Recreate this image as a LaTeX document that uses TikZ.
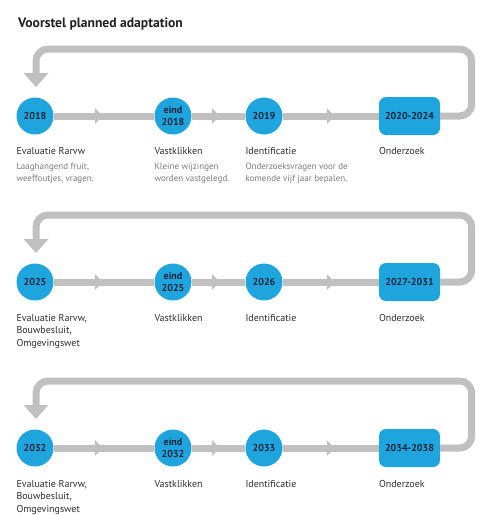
\documentclass[tikz,border=0pt]{standalone}
\usepackage{fontspec}
\setmainfont{PT Sans}
\usetikzlibrary{calc}
\definecolor{cblue}{HTML}{1EA5DE}
\definecolor{lgray}{HTML}{C0C0C0}
\definecolor{ntext}{HTML}{102238}
\definecolor{ltext}{HTML}{2E2E2E}
\definecolor{dtext}{HTML}{7A7A7A}
\definecolor{ttext}{HTML}{222222}
\begin{document}
\begin{tikzpicture}[x=1pt,y=-1pt,
  yearc/.style={circle, fill=cblue, minimum size=37pt, inner sep=0pt,
    font=\fontsize{10}{12}\selectfont\bfseries, text=ntext, align=center},
  yearbox/.style={rectangle, rounded corners=7pt, fill=cblue, minimum width=61pt,
    minimum height=38pt, inner sep=0pt, font=\fontsize{10}{12}\selectfont\bfseries, text=ntext},
  flow/.style={draw=lgray, line width=7pt},
  lbl/.style={anchor=base west, inner sep=0pt, font=\fontsize{10}{12.5}\selectfont,
    text=ltext, align=left},
  desc/.style={anchor=base west, inner sep=0pt, font=\fontsize{9}{12}\selectfont,
    text=dtext, align=left}]
\useasboundingbox (0,0) rectangle (479,515);

\node[anchor=base west, inner sep=0pt, font=\fontsize{13.6}{15}\selectfont\bfseries, text=ttext]
  (title) at (18,27) {Voorstel planned adaptation};

\foreach \r/\yc/\ya/\yb/\yy/\yd in {1/116/2018/2018/2019/2020-2024, 2/282/2025/2025/2026/2027-2031, 3/448/2032/2032/2033/2034-2038}{
  \node[yearc] (a\r) at (35,\yc) {\ya};
  \node[yearc] (b\r) at (173,\yc) {eind\\\yb};
  \node[yearc] (c\r) at (264,\yc) {\yy};
  \node[yearbox] (d\r) at (409.5,\yc) {\yd};
  \draw[flow] (a\r) -- coordinate[pos=0.45] (m1\r) (b\r);
  \draw[flow] (b\r) -- coordinate[pos=0.45] (m2\r) (c\r);
  \draw[flow] (c\r) -- coordinate[pos=0.5] (m3\r) (d\r);
  \foreach \m in {m1\r,m2\r,m3\r}{
    \fill[lgray] ($(\m)+(-4,-8)$) -- ($(\m)+(4,0)$) -- ($(\m)+(-4,8)$) -- cycle;
  }
  \coordinate (t\r) at ($(a\r)+(1,-67)$);
  \coordinate (h\r) at ($(a\r)+(1,-43)$);
  \draw[flow, rounded corners=12pt] (d\r.east) -- ($(d\r.east)+(31.5,0)$)
    -- ($(d\r.east)+(31.5,-67)$) -- (t\r) -- (h\r);
  \fill[lgray] ($(h\r)+(-12.5,0)$) -- ($(h\r)+(12.5,0)$) -- ($(h\r)+(0,14)$) -- cycle;
}

% Row 1 labels (base anchor = baseline of last line)
\node[lbl] (la1) at ($(a1.west)+(0,38)$) {Evaluatie Rarvw};
\node[desc] (da1) at ($(a1.west)+(0,65)$) {Laaghangend fruit,\\weeffoutjes, vragen.};
\node[lbl] (lb1) at ($(b1.west)+(0,38)$) {Vastklikken};
\node[desc] (db1) at ($(b1.west)+(0,65)$) {Kleine wijzingen\\worden vastgelegd.};
\node[lbl] (lc1) at ($(c1.west)+(0,38)$) {Identificatie};
\node[desc] (dc1) at ($(c1.west)+(0,65)$) {Onderzoeksvragen voor de\\komende vijf jaar bepalen.};
\node[lbl] (ld1) at ($(d1.west)+(0,38)$) {Onderzoek};

% Rows 2 and 3 labels
\foreach \r in {2,3}{
  \node[lbl] (la\r) at ($(a\r.west)+(0,64)$) {Evaluatie Rarvw,\\Bouwbesluit,\\Omgevingswet};
  \node[lbl] (lb\r) at ($(b\r.west)+(0,39)$) {Vastklikken};
  \node[lbl] (lc\r) at ($(c\r.west)+(0,39)$) {Identificatie};
  \node[lbl] (ld\r) at ($(d\r.west)+(0,39)$) {Onderzoek};
}
\end{tikzpicture}
\end{document}
